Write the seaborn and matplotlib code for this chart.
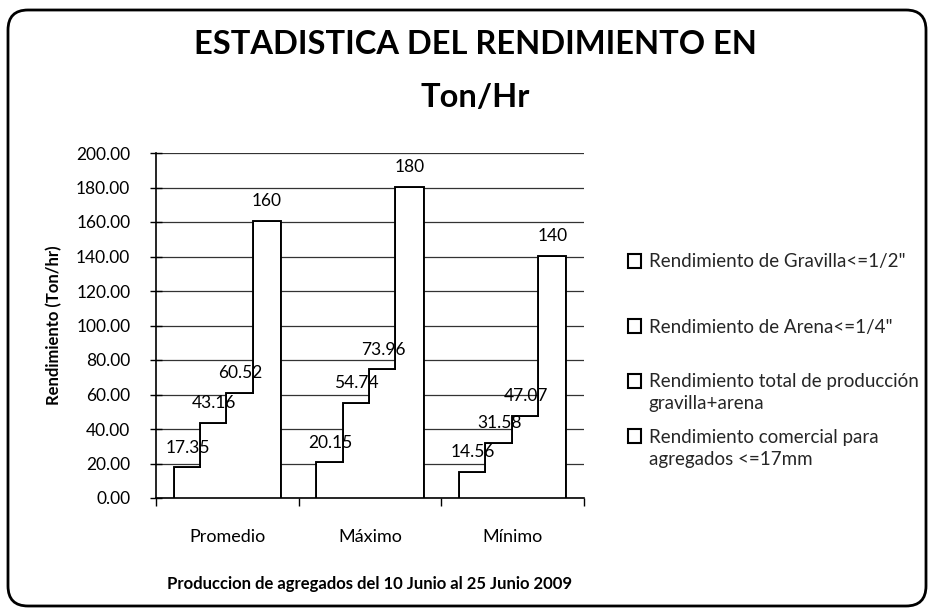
import numpy as np
import pandas as pd
import matplotlib
matplotlib.use("Agg")
import matplotlib.pyplot as plt
import seaborn as sns
from matplotlib.patches import FancyBboxPatch, Patch
from matplotlib.ticker import FormatStrFormatter

# ---- data ----
categories = ["Promedio", "Máximo", "Mínimo"]
series = [
    'Rendimiento de Gravilla<=1/2"',
    'Rendimiento de Arena<=1/4"',
    'Rendimiento total de producción\ngravilla+arena',
    'Rendimiento comercial para\nagregados <=17mm',
]
gravilla = [17.35, 20.15, 14.56]
arena = [43.16, 54.74, 31.58]
total = [60.52, 73.96, 47.07]
comercial = [160, 180, 140]
y_ticks = [0, 20, 40, 60, 80, 100, 120, 140, 160, 180, 200]

title = "ESTADISTICA DEL RENDIMIENTO EN\nTon/Hr"
y_title = "Rendimiento (Ton/hr)"
x_title = "Produccion de agregados del 10 Junio al 25 Junio 2009"

rows = []
for s, vals in zip(series, [gravilla, arena, total, comercial]):
    for c, v in zip(categories, vals):
        rows.append((c, s, v))
df = pd.DataFrame(rows, columns=["cat", "serie", "val"])

sns.set_theme(style="white")
plt.rcParams["font.family"] = ["Lato", "DejaVu Sans"]

fig = plt.figure(figsize=(9.32, 6.16), dpi=100)
ax = fig.add_axes([156 / 932, 1 - 498 / 616, (584 - 156) / 932, (498 - 153) / 616])

# pass 1: thick outlines; pass 2: white fills hide inner edges -> staircase outline
sns.barplot(data=df, x="cat", y="val", hue="serie", order=categories,
            hue_order=series, palette=["black"] * 4, fill=False, width=0.74,
            gap=0, linewidth=2.8, dodge=True, legend=False, errorbar=None, ax=ax)
sns.barplot(data=df, x="cat", y="val", hue="serie", order=categories,
            hue_order=series, palette=["white"] * 4, fill=True, width=0.74,
            gap=0, linewidth=0, dodge=True, legend=False, errorbar=None,
            saturation=1, ax=ax)

for cont in ax.containers[4:]:
    ax.bar_label(cont, labels=[f"{b.get_height():g}" for b in cont],
                 padding=9, fontsize=12.5, color="black")

ax.set_ylim(0, 200)
ax.set_xlim(-0.5, 2.5)
ax.set_yticks(y_ticks)
ax.yaxis.set_major_formatter(FormatStrFormatter("%.2f"))
ax.set_xticks([-0.5, 0.5, 1.5, 2.5], labels=[])
ax.set_xticks([0, 1, 2], labels=categories, minor=True)
ax.tick_params(axis="y", left=True, direction="inout", length=9, width=1,
               color="black", labelsize=12.5, pad=14, labelcolor="black")
ax.tick_params(axis="x", which="major", bottom=True, direction="out",
               length=6, width=1, color="black")
ax.tick_params(axis="x", which="minor", bottom=True, length=0, pad=22,
               labelsize=13, labelcolor="black")

ax.yaxis.grid(True, color="#333333", linewidth=0.9)
ax.xaxis.grid(False)
ax.set_axisbelow(True)
for sp in ["top", "right"]:
    ax.spines[sp].set_visible(False)
for sp in ["left", "bottom"]:
    ax.spines[sp].set_color("black")
    ax.spines[sp].set_linewidth(1.2)

ax.set_ylabel(y_title, fontsize=12, fontweight="bold", color="black", labelpad=10)
ax.set_xlabel(x_title, fontsize=12, fontweight="bold", color="black", labelpad=23)

fig.text(475 / 932, 1 - 71 / 616, title, ha="center", va="center",
         fontsize=23.5, fontweight="bold", linespacing=2.0, color="black")

# legend entries: marker on first line, continuation lines aligned with text
leg_lines = [(262, 0, 0), (327, 1, 0), (382, 2, 0), (404, 2, 1), (437, 3, 0), (459, 3, 1)]
for y, i, j in leg_lines:
    line = series[i].split("\n")[j]
    if j == 0:
        h = Patch(facecolor="white", edgecolor="black", linewidth=1.5)
    else:
        h = Patch(facecolor="none", edgecolor="none")
    fig.legend(handles=[h], labels=[line], loc="center left",
               bbox_to_anchor=(628 / 932, 1 - y / 616), frameon=False,
               fontsize=13.5, handlelength=0.7, handleheight=0.7,
               handletextpad=0.4, borderpad=0, borderaxespad=0)

fig.patches.append(FancyBboxPatch((0.08, 0.10), 9.18, 5.96,
                                  boxstyle="round,pad=0,rounding_size=0.2",
                                  transform=fig.dpi_scale_trans, fill=False,
                                  edgecolor="black", linewidth=2, figure=fig))

fig.savefig("out.png", dpi=100, facecolor="white")
